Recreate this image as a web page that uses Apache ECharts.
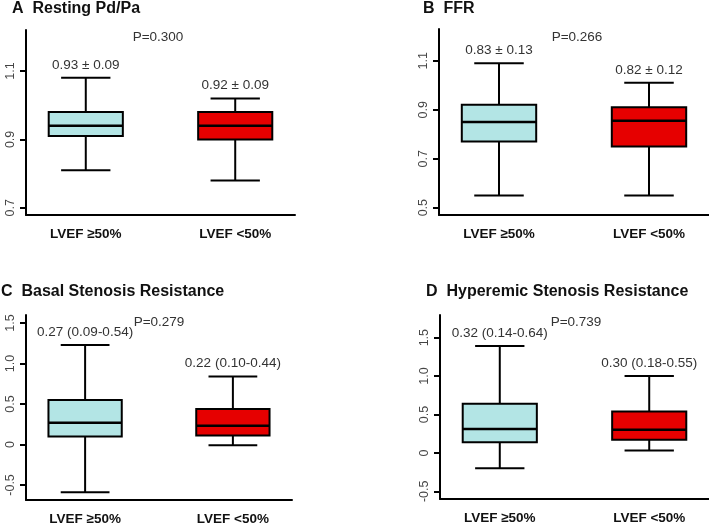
<!DOCTYPE html>
<html><head><meta charset="utf-8">
<script src="https://cdn.jsdelivr.net/npm/echarts@6/dist/echarts.min.js"></script>
<style>html,body{margin:0;padding:0;background:#fff}#c{width:709px;height:530px}</style>
</head><body><div id="c"></div>
<script>
// ---- data ----
const categories = ['LVEF ≥50%', 'LVEF <50%'];
// [min, Q1, median, Q3, max] per category
const restingPdPa = [[0.81, 0.91, 0.94, 0.98, 1.08], [0.78, 0.90, 0.94, 0.98, 1.02]];
const ffr = [[0.55, 0.77, 0.85, 0.92, 1.09], [0.55, 0.75, 0.855, 0.91, 1.01]];
const basalSR = [[-0.59, 0.10, 0.27, 0.55, 1.23], [-0.01, 0.11, 0.23, 0.44, 0.84]];
const hyperemicSR = [[-0.20, 0.14, 0.31, 0.64, 1.39], [0.03, 0.17, 0.30, 0.54, 1.00]];
const summaryA = ['0.93 ± 0.09', '0.92 ± 0.09'];
const summaryB = ['0.83 ± 0.13', '0.82 ± 0.12'];
const summaryC = ['0.27 (0.09-0.54)', '0.22 (0.10-0.44)'];
const summaryD = ['0.32 (0.14-0.64)', '0.30 (0.18-0.55)'];
const pValues = ['P=0.300', 'P=0.266', 'P=0.279', 'P=0.739'];
const titles = ['A  Resting Pd/Pa', 'B  FFR', 'C  Basal Stenosis Resistance', 'D  Hyperemic Stenosis Resistance'];
const ticksA = [0.7, 0.9, 1.1];
const ticksB = [0.5, 0.7, 0.9, 1.1];
const ticksCD = [-0.5, 0, 0.5, 1.0, 1.5];

// ---- layout ----
const FONT = '"Liberation Sans", Arial, Helvetica, sans-serif';
const boxColors = ['#b3e5e5', '#e60000'];
const panels = [
  {data: restingPdPa, sum: summaryA, ticks: ticksA, grid: {left: 26, top: 30, width: 269, height: 185}, y: [0.679, 1.22], titlePos: [12, 10], pPos: [158, 37]},
  {data: ffr, sum: summaryB, ticks: ticksB, grid: {left: 439, top: 29, width: 270, height: 186}, y: [0.47, 1.23], titlePos: [423, 10], pPos: [577, 37]},
  {data: basalSR, sum: summaryC, ticks: ticksCD, grid: {left: 26, top: 315, width: 266, height: 185}, y: [-0.686, 1.60], titlePos: [1, 293], pPos: [159, 322]},
  {data: hyperemicSR, sum: summaryD, ticks: ticksCD, grid: {left: 440, top: 315, width: 269, height: 184}, y: [-0.60, 1.795], titlePos: [426, 293], pPos: [576, 322]}
];

function fmtTick(v) {
  if (v === 0) return '0';
  return Math.abs(v) >= 1 || String(v).length < 3 ? v.toFixed(1) : String(v);
}

function makeRender(sumLabels) {
  return function (params, api) {
    const idx = params.dataIndex;
    const x = api.value(0);
    const mn = api.coord([x, api.value(1)]);
    const q1 = api.coord([x, api.value(2)]);
    const md = api.coord([x, api.value(3)]);
    const q3 = api.coord([x, api.value(4)]);
    const mx = api.coord([x, api.value(5)]);
    const unit = api.size([1, 0])[0];
    const hb = unit * 0.248, hc = unit * 0.165;
    const cx = mn[0];
    const ls = {stroke: '#000', lineWidth: 2};
    return {
      type: 'group',
      children: [
        {type: 'line', shape: {x1: cx, y1: mx[1], x2: cx, y2: q3[1]}, style: ls},
        {type: 'line', shape: {x1: cx, y1: q1[1], x2: cx, y2: mn[1]}, style: ls},
        {type: 'line', shape: {x1: cx - hc, y1: mx[1], x2: cx + hc, y2: mx[1]}, style: ls},
        {type: 'line', shape: {x1: cx - hc, y1: mn[1], x2: cx + hc, y2: mn[1]}, style: ls},
        {type: 'rect', shape: {x: cx - hb, y: q3[1], width: hb * 2, height: q1[1] - q3[1]}, style: {fill: boxColors[idx], stroke: '#000', lineWidth: 2}},
        {type: 'line', shape: {x1: cx - hb, y1: md[1], x2: cx + hb, y2: md[1]}, style: {stroke: '#000', lineWidth: 2.5}},
        {type: 'text', style: {x: cx, y: mx[1] - 13, text: sumLabels[idx], align: 'center', verticalAlign: 'middle', textAlign: 'center', textVerticalAlign: 'middle', fontSize: 13.5, fontFamily: FONT, fill: '#333'}}
      ]
    };
  };
}

const option = {
  animation: false,
  backgroundColor: '#fff',
  grid: panels.map(p => Object.assign({containLabel: false}, p.grid)),
  xAxis: panels.map((p, i) => ({
    type: 'value', gridIndex: i, min: 0.6, max: 2.4,
    axisLine: {show: true, onZero: false, lineStyle: {color: '#000', width: 2}},
    axisTick: {show: false},
    splitLine: {show: false},
    axisLabel: {customValues: [1, 2], formatter: v => categories[Math.round(v) - 1], fontSize: 13.5, fontWeight: 'bold', color: '#111', margin: 12, fontFamily: FONT}
  })),
  yAxis: panels.map((p, i) => ({
    type: 'value', gridIndex: i, min: p.y[0], max: p.y[1],
    axisLine: {show: true, onZero: false, lineStyle: {color: '#000', width: 2}},
    axisTick: {show: true, customValues: p.ticks, length: 6, lineStyle: {color: '#000', width: 2}},
    splitLine: {show: false},
    axisLabel: {customValues: p.ticks, formatter: fmtTick, rotate: 90, fontSize: 12.5, color: '#444', margin: 9, fontFamily: FONT}
  })),
  series: panels.map((p, i) => ({
    type: 'custom', xAxisIndex: i, yAxisIndex: i,
    encode: {x: 0, y: [1, 2, 3, 4, 5]},
    data: p.data.map((d, k) => [k + 1].concat(d)),
    renderItem: makeRender(p.sum),
    clip: false
  })),
  graphic: panels.flatMap((p, i) => [
    {type: 'text', left: p.titlePos[0], top: p.titlePos[1] - 9, style: {text: titles[i], fontSize: 16, fontWeight: 'bold', fill: '#111', fontFamily: FONT}},
    {type: 'text', x: p.pPos[0], y: p.pPos[1], style: {text: pValues[i], align: 'center', verticalAlign: 'middle', textAlign: 'center', textVerticalAlign: 'middle', fontSize: 13.5, fill: '#333', fontFamily: FONT}}
  ])
};

const chart = echarts.init(document.getElementById('c'), null, {renderer: 'canvas'});
chart.setOption(option);
</script>
</body></html>
